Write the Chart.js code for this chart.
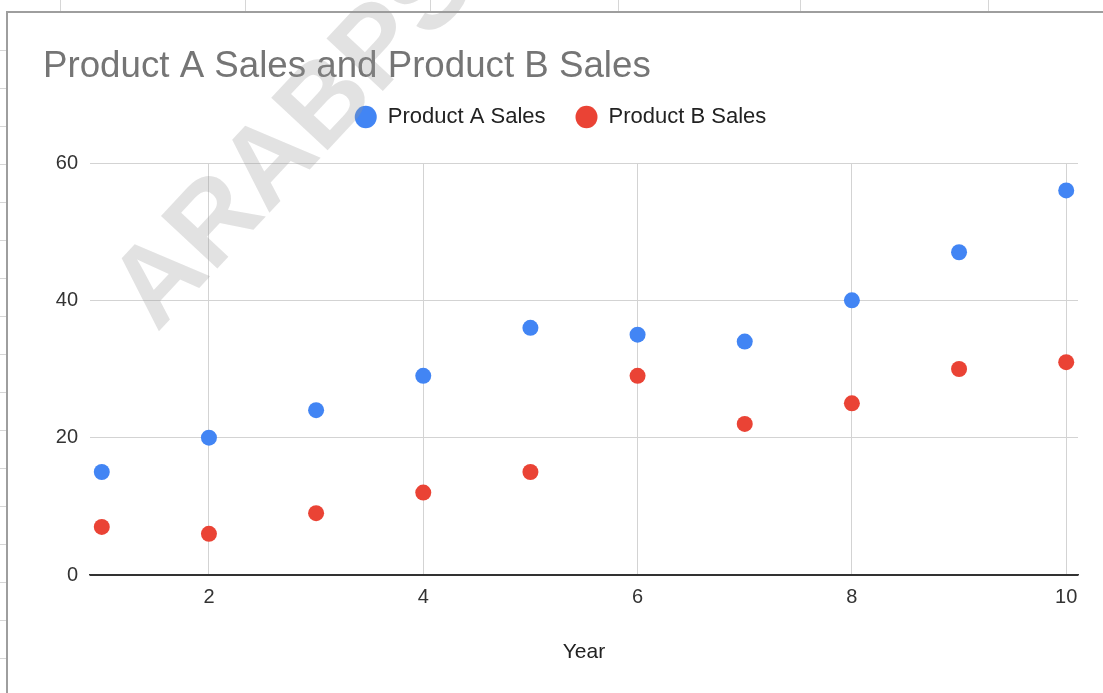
<!DOCTYPE html>
<html>
<head>
<meta charset="utf-8">
<script src="https://cdn.jsdelivr.net/npm/chart.js@4"></script>
<style>
  html, body { margin: 0; padding: 0; background: #fff; }
  #wrap { position: relative; width: 1103px; height: 693px; overflow: hidden; }
  #frameTop { position: absolute; left: 7px; top: 11px; width: 1096px; height: 0; border-top: 2px solid #9e9e9e; }
  #frameLeft { position: absolute; left: 6px; top: 11px; width: 0; height: 682px; border-left: 2px solid #9e9e9e; }
  .colMark { position: absolute; top: 0; width: 1px; height: 11px; background: #d6d6d6; }
  .rowMark { position: absolute; left: 0; width: 6px; height: 1px; background: #d6d6d6; }
  #wm {
    position: absolute; left: 158px; top: 334px;
    font: bold 112px "Liberation Sans", Arial, sans-serif; line-height: 1;
    color: rgba(150, 150, 150, 0.28); white-space: nowrap;
    transform-origin: 0 0; transform: rotate(-47deg) translateY(-0.85em);
    pointer-events: none;
  }
</style>
</head>
<body>
<div id="wrap">
  <canvas id="myChart" width="1103" height="693"></canvas>
  <div id="frameTop"></div>
  <div id="frameLeft"></div>
  <div id="wm">ARABPS</div>
</div>
<script>
// datos
const years = [1, 2, 3, 4, 5, 6, 7, 8, 9, 10];
const productA = [15, 20, 24, 29, 36, 35, 34, 40, 47, 56];
const productB = [7, 6, 9, 12, 15, 29, 22, 25, 30, 31];
const xTicks = [2, 4, 6, 8, 10];
const yTicks = [0, 20, 40, 60];

// marcas de la hoja de calculo alrededor del grafico
const wrap = document.getElementById('wrap');
[60, 245, 430, 618, 800, 988].forEach(x => {
  const d = document.createElement('div');
  d.className = 'colMark';
  d.style.left = x + 'px';
  wrap.appendChild(d);
});
for (let y = 50; y < 693; y += 38) {
  const d = document.createElement('div');
  d.className = 'rowMark';
  d.style.top = y + 'px';
  wrap.appendChild(d);
}

const font = 'Arial, "Liberation Sans", sans-serif';

// espacio extra debajo de la leyenda
const legendGap = {
  id: 'legendGap',
  beforeInit(chart) {
    const fit = chart.legend.fit;
    chart.legend.fit = function () {
      fit.bind(chart.legend)();
      this.height += 25;
    };
  }
};

const ctx = document.getElementById('myChart');
new Chart(ctx, {
  type: 'scatter',
  data: {
    datasets: [{
      label: 'Product A Sales',
      data: years.map((x, i) => ({ x: x, y: productA[i] })),
      backgroundColor: '#4285F4',
      borderWidth: 0,
      pointRadius: 8,
      pointHoverRadius: 8
    }, {
      label: 'Product B Sales',
      data: years.map((x, i) => ({ x: x, y: productB[i] })),
      backgroundColor: '#EA4335',
      borderWidth: 0,
      pointRadius: 8,
      pointHoverRadius: 8
    }]
  },
  options: {
    responsive: false,
    animation: false,
    layout: { padding: { left: 43, right: 25, top: 0, bottom: 0 } },
    plugins: {
      title: {
        display: true,
        text: 'Product A Sales and Product B Sales',
        align: 'start',
        color: '#757575',
        font: { family: font, size: 36.7, weight: 'normal', lineHeight: 1 },
        padding: { top: 49, bottom: -9.7 }
      },
      legend: {
        labels: {
          usePointStyle: true,
          pointStyle: 'circle',
          pointStyleWidth: 22,
          boxHeight: 16,
          color: '#222',
          font: { family: font, size: 22 },
          padding: 30
        }
      },
      tooltip: { enabled: false }
    },
    scales: {
      x: {
        type: 'linear',
        min: 0.89,
        max: 10.11,
        afterBuildTicks: scale => { scale.ticks = xTicks.map(v => ({ value: v })); },
        afterFit: scale => { scale.height = 118; },
        grid: { color: '#d3d3d3', lineWidth: 1, drawTicks: false },
        border: { display: true, color: '#333', width: 1.5 },
        ticks: { color: '#333', font: { family: font, size: 20 }, padding: 10 },
        title: {
          display: true,
          text: 'Year',
          color: '#222',
          font: { family: font, size: 21 },
          padding: { top: 0, bottom: 28 }
        }
      },
      y: {
        min: 0,
        max: 60,
        afterBuildTicks: scale => { scale.ticks = yTicks.map(v => ({ value: v })); },
        afterFit: scale => { scale.width = 47; },
        grid: {
          color: c => c.tick && c.tick.value === 0 ? '#333' : '#d3d3d3',
          lineWidth: 1,
          drawTicks: false
        },
        border: { display: false },
        ticks: { color: '#333', font: { family: font, size: 20 }, padding: 12 }
      }
    }
  },
  plugins: [legendGap]
});
</script>
</body>
</html>
